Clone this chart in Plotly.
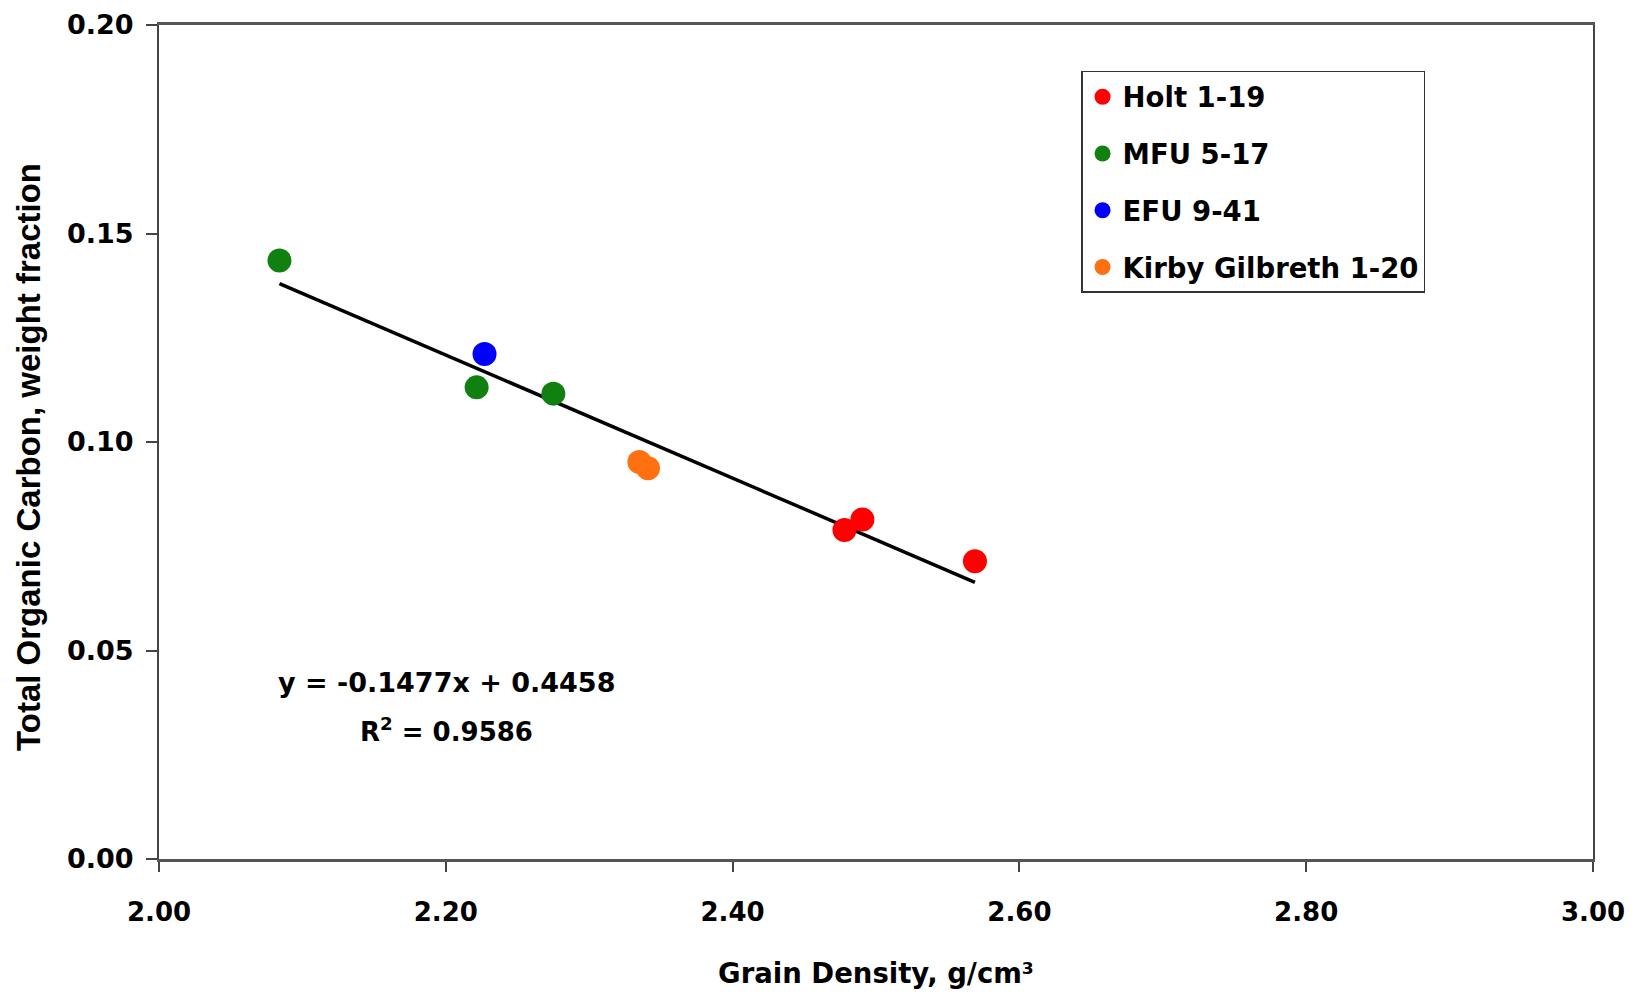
import plotly.graph_objects as go
import numpy as np

# Data
holt_x = [2.478, 2.4905, 2.569]
holt_y = [0.0789, 0.0814, 0.0714]
mfu_x = [2.084, 2.2215, 2.275]
mfu_y = [0.1435, 0.1131, 0.1116]
efu_x = [2.227]
efu_y = [0.1211]
kirby_x = [2.335, 2.341]
kirby_y = [0.0952, 0.0937]

slope = -0.1477
intercept = 0.4458
r2 = 0.9586

x_ticks = [2.0, 2.2, 2.4, 2.6, 2.8, 3.0]
y_ticks = [0.0, 0.05, 0.10, 0.15, 0.20]

series = [
    ("Holt 1-19", holt_x, holt_y, "#ff0000"),
    ("MFU 5-17", mfu_x, mfu_y, "#108010"),
    ("EFU 9-41", efu_x, efu_y, "#0000ff"),
    ("Kirby Gilbreth 1-20", kirby_x, kirby_y, "#ff7010"),
]

FONT = "DejaVu Sans"

fig = go.Figure()

all_x = holt_x + mfu_x + efu_x + kirby_x
xs = np.array([min(all_x), max(all_x)])
fig.add_trace(go.Scatter(x=xs, y=slope * xs + intercept, mode="lines",
                         line=dict(color="black", width=3.5), showlegend=False,
                         hoverinfo="skip"))

for i, (name, x, y, c) in enumerate(series):
    fig.add_trace(go.Scatter(x=x, y=y, mode="markers", name=name,
                             legendgroup=f"g{i}",
                             marker=dict(color=c, size=24, line=dict(width=0))))

fig.add_annotation(x=2.2008, y=0.0424, xref="x", yref="y",
                   text=f"<b>y = {slope}x + {intercept}</b>", showarrow=False,
                   font=dict(family=FONT, size=27, color="black"))
fig.add_annotation(x=2.2008, y=0.0309, xref="x", yref="y",
                   text=f"<b>R<sup>2</sup> = {r2}</b>", showarrow=False,
                   font=dict(family=FONT, size=26, color="black"))

# y-axis title (placed slightly below the plot centre, as in the reference)
fig.add_annotation(x=-0.0914, y=0.482, xref="paper", yref="paper",
                   text="<b>Total Organic Carbon, weight fraction</b>",
                   textangle=-90, showarrow=False, xanchor="center", yanchor="middle",
                   font=dict(family="Liberation Sans", size=33, color="black"))

fig.update_layout(
    width=1627, height=987,
    margin=dict(l=151, r=42, t=17, b=136),
    paper_bgcolor="white", plot_bgcolor="white",
    font=dict(family=FONT, color="black"),
    legend=dict(x=0.643, y=0.945, xanchor="left", yanchor="top",
                bordercolor="#333333", borderwidth=1.5, bgcolor="white",
                font=dict(family=FONT, size=27.5, color="black", weight="bold"),
                tracegroupgap=18, itemsizing="trace"),
    xaxis=dict(range=[2.0, 3.0], tickvals=x_ticks,
               ticktext=[f"{v:.2f}" for v in x_ticks],
               tickfont=dict(family=FONT, size=26, color="black", weight="bold"),
               ticks="outside", ticklen=10, tickcolor="#444", tickwidth=1.5,
               ticklabelstandoff=18, automargin=False,
               showline=True, linecolor="#555", linewidth=2.5, mirror=True,
               showgrid=False, zeroline=False,
               title=dict(text="Grain Density, g/cm³", standoff=38,
                          font=dict(family=FONT, size=27.5, color="black", weight="bold"))),
    yaxis=dict(range=[0.0, 0.20], tickvals=y_ticks,
               ticktext=[f"{v:.2f}" for v in y_ticks],
               tickfont=dict(family=FONT, size=27, color="black", weight="bold"),
               ticks="outside", ticklen=11, tickcolor="#444", tickwidth=1.5,
               ticklabelstandoff=7, automargin=False,
               showline=True, linecolor="#444", linewidth=2, mirror=True,
               showgrid=False, zeroline=False),
)

fig.write_html("out.html")
